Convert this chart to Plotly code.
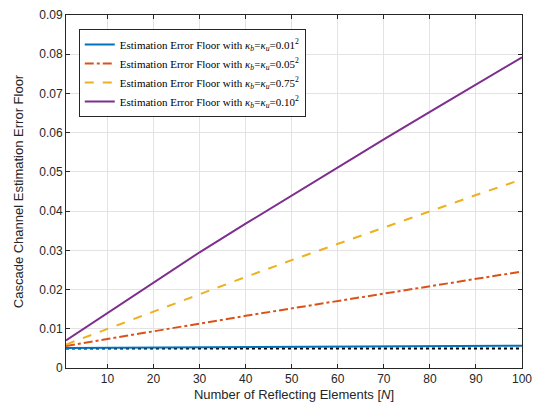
import plotly.graph_objects as go

N = [1, 10, 20, 30, 40, 50, 60, 70, 80, 90, 100]
err_001 = [0.0051, 0.00515, 0.0052, 0.00525, 0.0053, 0.00535, 0.0054, 0.00545, 0.0055, 0.0056, 0.0057]
err_005 = [0.0056, 0.0074, 0.0094, 0.0114, 0.0133, 0.0152, 0.0171, 0.0190, 0.0209, 0.0228, 0.0246]
err_075 = [0.0060, 0.0100, 0.0144, 0.0188, 0.0232, 0.0275, 0.0317, 0.0358, 0.0400, 0.0441, 0.0481]
err_010 = [0.0070, 0.0140, 0.0218, 0.0295, 0.0368, 0.0440, 0.0512, 0.0583, 0.0653, 0.0723, 0.0792]
err_bound = [0.0050, 0.0050, 0.0050, 0.0050, 0.0050, 0.0050, 0.0050, 0.0050, 0.0050, 0.0050, 0.0050]

names = [
    "Estimation Error Floor with <i>κ</i><sub><i>b</i></sub>=<i>κ</i><sub><i>u</i></sub>=0.01<sup>2</sup>",
    "Estimation Error Floor with <i>κ</i><sub><i>b</i></sub>=<i>κ</i><sub><i>u</i></sub>=0.05<sup>2</sup>",
    "Estimation Error Floor with <i>κ</i><sub><i>b</i></sub>=<i>κ</i><sub><i>u</i></sub>=0.75<sup>2</sup>",
    "Estimation Error Floor with <i>κ</i><sub><i>b</i></sub>=<i>κ</i><sub><i>u</i></sub>=0.10<sup>2</sup>",
]
colors = ["#0072BD", "#D95319", "#EDB120", "#7E2F8E"]
dashes = ["solid", "dashdot", "dash", "solid"]
series = [err_001, err_005, err_075, err_010]

fig = go.Figure()
fig.add_trace(go.Scatter(x=N, y=err_bound, mode="lines", showlegend=False,
                         line=dict(color="black", width=2, dash="dot")))
for s, nm, c, d in zip(series, names, colors, dashes):
    fig.add_trace(go.Scatter(x=N, y=s, mode="lines", name=nm,
                             line=dict(color=c, width=2, dash=d)))

yt = [0, 0.01, 0.02, 0.03, 0.04, 0.05, 0.06, 0.07, 0.08, 0.09]
ytext = ["0", "0.01", "0.02", "0.03", "0.04", "0.05", "0.06", "0.07", "0.08", "0.09"]

axis_common = dict(showline=True, linecolor="#262626", linewidth=1, mirror="ticks",
                   ticks="inside", ticklen=4, tickcolor="#262626",
                   showgrid=True, gridcolor="#e3e3e3", gridwidth=1, zeroline=False,
                   tickfont=dict(family="Liberation Sans, Arial", size=12, color="#262626"))

fig.update_layout(
    width=542, height=414,
    margin=dict(l=66, r=20, t=8, b=46),
    plot_bgcolor="white", paper_bgcolor="white",
    xaxis=dict(range=[1, 100], tickvals=[10, 20, 30, 40, 50, 60, 70, 80, 90, 100],
               title=dict(text="Number of Reflecting Elements [<i>N</i>]", standoff=4,
                          font=dict(family="Liberation Sans, Arial", size=13, color="#262626")),
               **axis_common),
    yaxis=dict(range=[0, 0.09], tickvals=yt, ticktext=ytext,
               title=dict(text="Cascade Channel Estimation Error Floor", standoff=12,
                          font=dict(family="Liberation Sans, Arial", size=13, color="#262626")),
               **axis_common),
    legend=dict(x=0.028, y=0.96, xanchor="left", yanchor="top",
                bgcolor="white", bordercolor="#262626", borderwidth=1,
                font=dict(family="Liberation Serif, Times New Roman", size=11, color="black"),
                itemwidth=30, tracegroupgap=0),
)

fig.write_html("out.html")
